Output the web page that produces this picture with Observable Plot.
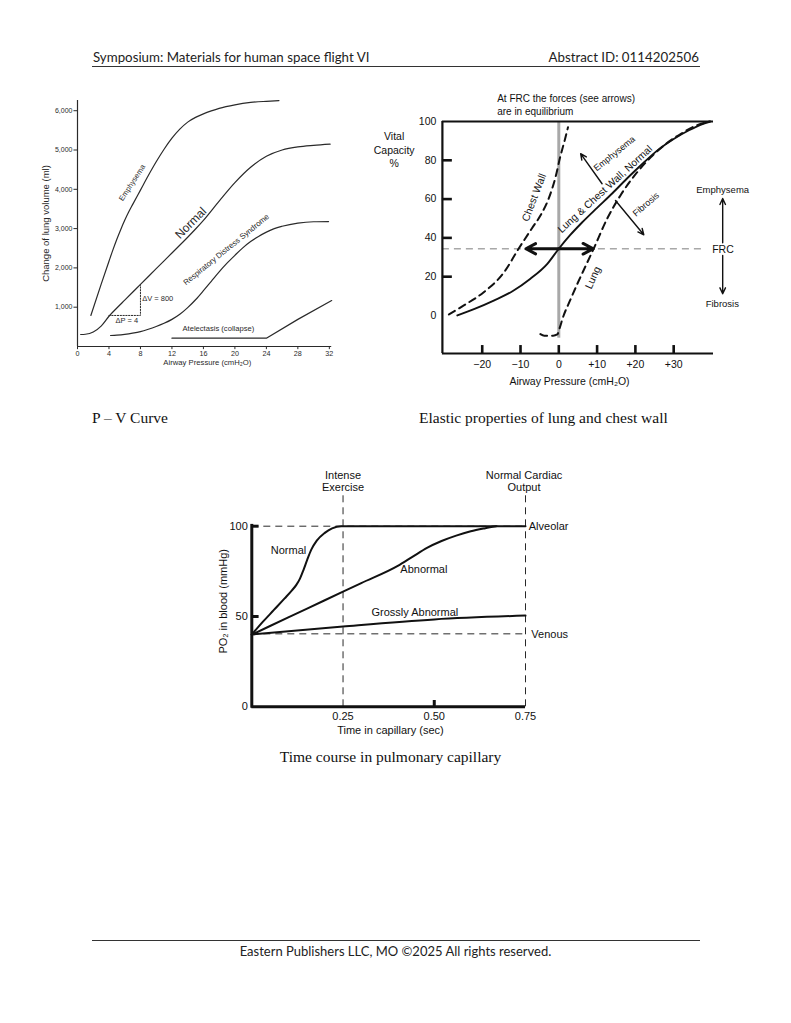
<!DOCTYPE html>
<html><head><meta charset="utf-8">
<script src="https://cdn.jsdelivr.net/npm/d3@7"></script>
<script src="https://cdn.jsdelivr.net/npm/@observablehq/plot@0.6"></script>
<style>
body{margin:0;background:#fff;width:791px;height:1023px;position:relative;overflow:hidden}
.abs{position:absolute;white-space:nowrap}
.hdr{font-family:Lato,"Open Sans",sans-serif;font-size:13.3px;line-height:16px;color:#222}
.ftr{font-family:Lato,"Open Sans",sans-serif;font-size:13px;line-height:16px;color:#222}
.cap{font-family:"Liberation Serif","Times New Roman",serif;font-size:15.5px;line-height:18px;color:#111}
.rule{position:absolute;border-top:1px solid #333;height:0}
</style></head><body>
<div class="abs hdr" style="left:93px;top:49px">Symposium: Materials for human space flight VI</div>
<div class="abs hdr" style="right:92px;top:49px">Abstract ID: 0114202506</div>
<div class="rule" style="left:92px;top:66px;width:608px"></div>
<div class="abs cap" style="left:92px;top:409px">P – V Curve</div>
<div class="abs cap" style="left:419px;top:409px">Elastic properties of lung and chest wall</div>
<div class="abs cap" style="left:0;width:781px;text-align:center;top:748px">Time course in pulmonary capillary</div>
<div class="rule" style="left:92px;top:940px;width:608px"></div>
<div class="abs ftr" style="left:0;width:791px;text-align:center;top:943px">Eastern Publishers LLC, MO ©2025 All rights reserved.</div>
<script>
// ---------- Chart 1: P-V curve (Airway pressure cmH2O vs change of lung volume ml)
const pvXTicks = [0,4,8,12,16,20,24,28,32];
const pvYTicks = [1000,2000,3000,4000,5000,6000];
const pvEmphysema = [[1.7,790],[3,1580],[4,2170],[4.5,2460],[5,2730],[5.5,2980],[6,3210],[6.5,3420],[7,3610],[8,3980],[9,4350],[10,4700],[11,5020],[12,5300],[13,5530],[14,5710],[15,5830],[16,5920],[17,5995],[18,6060],[20,6150],[22,6210],[24,6240],[25.6,6258]];
const pvNormal = [[0.4,305],[1,312],[2,370],[3,520],[4,770],[5,980],[6,1180],[7,1380],[8,1580],[10,1980],[12,2380],[14,2780],[15,2990],[16,3210],[18,3700],[20,4170],[22,4560],[24,4840],[26,5000],[28,5080],[30,5120],[32.1,5150]];
const pvRDS = [[4.2,280],[5,290],[6,310],[7,340],[8,380],[9,440],[10,510],[11,590],[12,690],[13,820],[14,990],[15,1190],[16,1420],[17,1660],[18,1900],[19,2120],[20,2320],[21,2510],[22,2670],[23,2800],[24,2910],[25,3000],[26,3060],[28,3140],[30,3175],[31.9,3180]];
const pvAtelectasis = [[12,212],[24,212],[28,690],[32.3,1170]];
const pvDelta = [[4,790],[8,790],[8,1580]];
const pvLabels = [
  {x:6.95,y:4168,text:"Emphysema",rotate:-57,size:7.5},
  {x:14.4,y:3142,text:"Normal",rotate:-45,size:12},
  {x:18.9,y:2468,text:"Respiratory Distress Syndrome",rotate:-39,size:7.8},
  {x:17.9,y:450,text:"Atelectasis (collapse)",rotate:0,size:7.6}
];
const pvDeltaLabels = [{x:8.22,y:1214,text:"ΔV = 800"},{x:4.83,y:662,text:"ΔP = 4"}];

// ---------- Chart 2: elastic properties (airway pressure vs vital capacity %)
const ecXTicks = [-20,-10,0,10,20,30];
const ecXTickLabels = ["−20","−10","0","+10","+20","+30"];
const ecYTickMarks = [20,40,60,80];
const ecYTickLabels = [100,80,60,40,20,0];
const ecSolid = [[-26.5,0],[-22,3.4],[-17,7.7],[-12,12.6],[-7.5,18.8],[-3,26.6],[0,34.4],[3,41.5],[6,47.8],[10,55.5],[14,63],[18,71],[22,78.5],[26,85.5],[30,91],[34,95.5],[37,98.3],[39.6,100]];
const ecChestWall = [[-28.7,0.5],[-24.8,5.2],[-19.6,12],[-14.4,22],[-10.5,34.4],[-7,45],[-4.8,51.5],[-2.6,60.5],[-0.9,71],[0.4,82],[1.5,90],[2.4,97]];
const ecLung = [[-4.8,-9.6],[-3.8,-10.4],[-1.5,-10.4],[-0.4,-9.8],[0.3,-6],[1,-1.5],[3,8],[5,17],[7,25.5],[9.1,34.4],[12.6,49.8],[16.1,61.9],[20.5,73.9],[24,81.5],[28,88.5],[32,93.8],[36,98],[39.3,100]];
const ecFRC = 34.4;
const ecForceArrows = [
  {x1:0,y1:34.4,x2:-8.6,y2:34.4},
  {x1:0,y1:34.4,x2:9,y2:34.4}
];
const ecShiftArrows = [
  {x1:11.3,y1:67.9,x2:5.7,y2:83.4},
  {x1:14.8,y1:59.3,x2:22.2,y2:41.6},
  {x1:42.8,y1:37.5,x2:42.8,y2:60.3},
  {x1:42.8,y1:30.9,x2:42.8,y2:11.2}
];
const ecLabels = [
  {x:-6.7,y:61,text:"Chest Wall",rotate:-69,size:10.5,anchor:"middle"},
  {x:11.9,y:65.5,text:"Lung & Chest Wall, Normal",rotate:-42.5,size:10.3,anchor:"middle"},
  {x:8.7,y:19.7,text:"Lung",rotate:-65,size:10.5,anchor:"middle"},
  {x:14.4,y:83.8,text:"Emphysema",rotate:-39,size:9,anchor:"middle"},
  {x:22.6,y:57.6,text:"Fibrosis",rotate:-41,size:9,anchor:"middle"},
  {x:42.8,y:65,text:"Emphysema",rotate:0,size:9.5,anchor:"middle"},
  {x:42.7,y:6.5,text:"Fibrosis",rotate:0,size:9.5,anchor:"middle"},
  {x:40.05,y:34.4,text:"FRC",rotate:0,size:10.5,anchor:"start"},
  {x:-43,y:85.6,text:"Vital\nCapacity\n%",rotate:0,size:10.5,anchor:"middle"},
  {x:-16.1,y:108.6,text:"At FRC the forces (see arrows)\nare in equilibrium",rotate:0,size:10,anchor:"start"},
  {x:2.8,y:-33.5,text:"Airway Pressure (cmH₂O)",rotate:0,size:10.5,anchor:"middle"}
];

// ---------- Chart 3: time course in pulmonary capillary
const tcXTickLabels = [0.25,0.5,0.75];
const tcYTickLabels = [0,50,100];
const tcNormal = [[0,40],[0.03,47],[0.06,53.5],[0.09,60],[0.11,64.5],[0.122,67.5],[0.132,71],[0.142,76],[0.152,81.5],[0.163,87],[0.178,92],[0.2,96.3],[0.22,98.8],[0.245,100],[0.75,100]];
const tcAbnormal = [[0,40],[0.1,49.5],[0.2,59],[0.3,68.5],[0.4,78],[0.44,83],[0.48,88],[0.52,91.8],[0.56,94.8],[0.6,97.2],[0.64,98.9],[0.67,100]];
const tcGross = [[0,40],[0.25,44.5],[0.5,48.4],[0.75,50.5]];
const tcAlveolar = 100, tcVenous = 40.4;
const tcVLines = [0.25,0.75];
const tcLabels = [
  {x:0.25,y:125.1,text:"Intense\nExercise",anchor:"middle"},
  {x:0.746,y:125.1,text:"Normal Cardiac\nOutput",anchor:"middle"},
  {x:0.759,y:100,text:"Alveolar",anchor:"start"},
  {x:0.766,y:40.4,text:"Venous",anchor:"start"},
  {x:0.1006,y:86.6,text:"Normal",anchor:"middle"},
  {x:0.4715,y:76.4,text:"Abnormal",anchor:"middle"},
  {x:0.4468,y:52.4,text:"Grossly Abnormal",anchor:"middle"},
  {x:0.38,y:-12.6,text:"Time in capillary (sec)",anchor:"middle"}
];

function place(left, top, width, height, xd, xr, yd, yr, marks) {
  const svg = Plot.plot({
    width, height, margin: 0,
    x: {domain: xd, range: [xr[0]-left, xr[1]-left], axis: null},
    y: {domain: yd, range: [yr[0]-top, yr[1]-top], axis: null},
    style: {fontFamily: "'Liberation Sans', Arial, sans-serif", overflow: "visible", background: "transparent"},
    marks
  });
  svg.style.position = "absolute";
  svg.style.left = left + "px";
  svg.style.top = top + "px";
  document.body.appendChild(svg);
}
const byAnchor = (arr, a) => arr.filter(d => d.anchor === a);

// Chart 1
{
  const c = "#2a2a2a";
  const L = {x: d=>d[0], y: d=>d[1], stroke: c, strokeWidth: 1.2};
  place(10, 88, 340, 290, [0,32.3], [77,331.2], [0,6260], [346,100], [
    Plot.ruleX([0], {y1: 0, y2: 6260, stroke: c, strokeWidth: 1.2}),
    Plot.ruleY([0], {x1: 0, x2: 32.3, stroke: c, strokeWidth: 1.2}),
    Plot.ruleY(pvYTicks, {y: d=>d, x1: -0.45, x2: 0, stroke: c}),
    Plot.text(pvYTicks, {x: 0, y: d=>d, text: d=>d3.format(",")(d), textAnchor: "end", dx: -5, fontSize: 7, fill: c}),
    Plot.ruleX(pvXTicks, {x: d=>d, y1: 0, y2: -80, stroke: c}),
    Plot.text(pvXTicks, {x: d=>d, y: 0, text: d=>String(d), dy: 7, fontSize: 7.2, fill: c}),
    Plot.text(["Change of lung volume (ml)"], {x: -4.07, y: 3130, text: d=>d, rotate: -90, fontSize: 9.5, fill: c}),
    Plot.text(["Airway Pressure (cmH₂O)"], {x: 16.5, y: -402, text: d=>d, fontSize: 7.7, fill: c}),
    Plot.line(pvEmphysema, {...L, curve: "monotone-x"}),
    Plot.line(pvNormal, {...L, curve: "monotone-x"}),
    Plot.line(pvRDS, {...L, curve: "monotone-x"}),
    Plot.line(pvAtelectasis, {...L, curve: "linear"}),
    Plot.line(pvDelta, {x: d=>d[0], y: d=>d[1], stroke: c, strokeWidth: 1, strokeDasharray: "1.3,1.5"}),
    Plot.text(pvLabels, {x: "x", y: "y", text: "text", rotate: d=>d.rotate, fontSize: d=>d.size, fill: c}),
    Plot.text(pvDeltaLabels, {x: "x", y: "y", text: "text", textAnchor: "start", fontSize: 7.5, fill: c})
  ]);
}

// Chart 2
{
  const k = "#111";
  const g = "#a8a8a8";
  const P = {x: d=>d[0], y: d=>d[1]};
  const T = {x: "x", y: "y", text: "text", rotate: d=>d.rotate, fontSize: d=>d.size, lineHeight: 1.3, fill: k};
  place(360, 88, 420, 305, [-30.4,40.4], [441.9,713], [-19.6,100], [353,121], [
    Plot.ruleY([ecFRC], {x1: -30.4, x2: 38.4, stroke: g, strokeWidth: 1.6, strokeDasharray: "7,5"}),
    Plot.ruleX([0], {y1: -11.7, y2: 100, stroke: g, strokeWidth: 3}),
    Plot.ruleX([-30.4], {y1: -19.6, y2: 100, stroke: k, strokeWidth: 2.2}),
    Plot.ruleY([100], {x1: -30.4, x2: 40.4, stroke: k, strokeWidth: 2.2}),
    Plot.ruleY([-19.6], {x1: -30.4, x2: 40.4, stroke: k, strokeWidth: 2.2}),
    Plot.ruleY(ecYTickMarks, {y: d=>d, x1: -30.4, x2: -27.8, stroke: k, strokeWidth: 2.6}),
    Plot.text(ecYTickLabels, {x: -30.4, y: d=>d, text: d=>String(d), textAnchor: "end", dx: -6, fontSize: 10.5, fill: k}),
    Plot.ruleX(ecXTicks, {x: d=>d, y1: -19.6, y2: -15.5, stroke: k, strokeWidth: 2.6}),
    Plot.text(ecXTicks, {x: d=>d, y: -19.6, text: (d,i)=>ecXTickLabels[i], dy: 11, fontSize: 10.5, fill: k}),
    Plot.line(ecSolid, {...P, stroke: k, strokeWidth: 1.9, curve: "monotone-x"}),
    Plot.line(ecChestWall, {...P, stroke: k, strokeWidth: 2, strokeDasharray: "7,5", curve: "monotone-x"}),
    Plot.line(ecLung, {...P, stroke: k, strokeWidth: 2, strokeDasharray: "7,5", curve: "monotone-x"}),
    Plot.arrow(ecForceArrows, {x1: "x1", y1: "y1", x2: "x2", y2: "y2", stroke: k, strokeWidth: 3, headLength: 9, headAngle: 55}),
    Plot.arrow(ecShiftArrows, {x1: "x1", y1: "y1", x2: "x2", y2: "y2", stroke: k, strokeWidth: 1.4, headLength: 7, headAngle: 50}),
    Plot.text(byAnchor(ecLabels, "middle"), {...T, textAnchor: "middle"}),
    Plot.text(byAnchor(ecLabels, "start"), {...T, textAnchor: "start"})
  ]);
}

// Chart 3
{
  const k = "#111";
  const P = {x: d=>d[0], y: d=>d[1], stroke: k, strokeWidth: 2};
  const T = {x: "x", y: "y", text: "text", fontSize: 11, lineHeight: 1.15, fill: k};
  place(200, 460, 360, 280, [0,0.75], [251.3,525], [0,100], [706.3,525.7], [
    Plot.ruleY([tcAlveolar, tcVenous], {x1: 0, x2: 0.75, stroke: k, strokeWidth: 0.9, strokeDasharray: "7,5"}),
    Plot.ruleX(tcVLines, {y1: 0, y2: 118.8, stroke: k, strokeWidth: 0.9, strokeDasharray: "7,5"}),
    Plot.ruleX([0], {y1: -0.8, y2: 101, stroke: k, strokeWidth: 3}),
    Plot.ruleY([0], {x1: 0, x2: 0.75, stroke: k, strokeWidth: 3}),
    Plot.ruleY([50,100], {y: d=>d, x1: 0, x2: 0.02, stroke: k, strokeWidth: 3}),
    Plot.ruleX([0.5], {x: d=>d, y1: 0, y2: 3.5, stroke: k, strokeWidth: 3}),
    Plot.text(tcYTickLabels, {x: 0, y: d=>d, text: d=>String(d), textAnchor: "end", dx: -4, fontSize: 11, fill: k}),
    Plot.text(tcXTickLabels, {x: d=>d, y: 0, text: d=>d.toFixed(2), dy: 10, fontSize: 11, fill: k}),
    Plot.text(["PO₂ in blood (mmHg)"], {x: -0.0767, y: 58.4, text: d=>d, rotate: -90, fontSize: 11, fill: k}),
    Plot.line(tcNormal, {...P, curve: "monotone-x"}),
    Plot.line(tcAbnormal, {...P, curve: "monotone-x"}),
    Plot.line(tcGross, {...P, curve: "monotone-x"}),
    Plot.text(byAnchor(tcLabels, "middle"), {...T, textAnchor: "middle"}),
    Plot.text(byAnchor(tcLabels, "start"), {...T, textAnchor: "start"})
  ]);
}
</script>
</body></html>
